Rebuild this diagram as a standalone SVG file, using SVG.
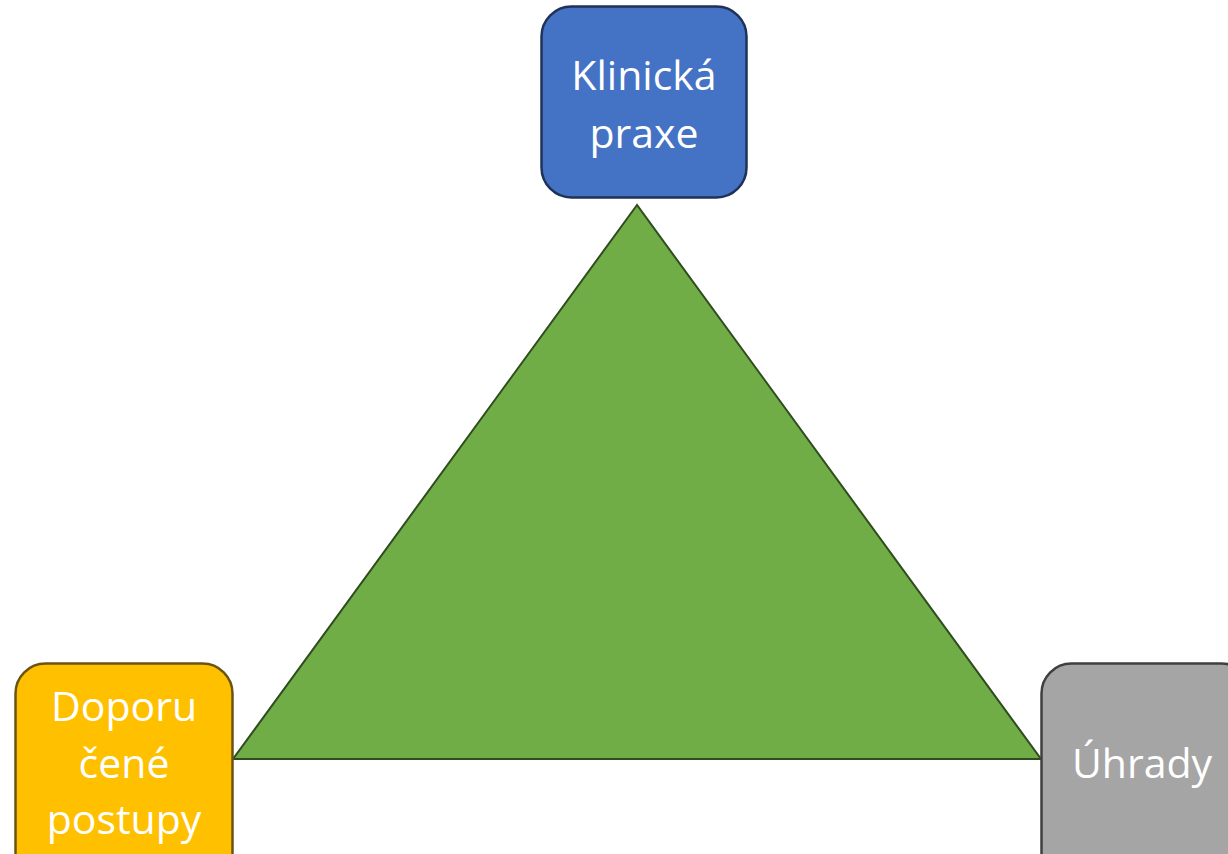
<svg xmlns="http://www.w3.org/2000/svg" width="1228" height="854" viewBox="0 0 1228 854">
  <style>
    .box { stroke-width: 2.5; }
    .lbl { font-family: "Open Sans", "Noto Sans", "DejaVu Sans", sans-serif; font-size: 41px; fill: #ffffff; text-anchor: middle; }
  </style>
  <rect width="1228" height="854" fill="#ffffff"/>
  <g id="connectors">
    <polygon points="637,205 233,759 1041,759" fill="#70ad47" stroke="#2f4d1e" stroke-width="2"/>
  </g>
  <g id="node-klinicka">
    <rect class="box" x="541.5" y="6.5" width="205" height="191" rx="30" fill="#4472c4" stroke="#1f3257"/>
    <text class="lbl" x="644" y="90">Klinická</text>
    <text class="lbl" x="644" y="148">praxe</text>
  </g>
  <g id="node-doporucene">
    <rect class="box" x="15.5" y="663.5" width="217" height="220" rx="30" fill="#ffc000" stroke="#6b5410"/>
    <text class="lbl" x="124" y="721">Doporu</text>
    <text class="lbl" x="124" y="778">čené</text>
    <text class="lbl" x="124" y="834">postupy</text>
  </g>
  <g id="node-uhrady">
    <rect class="box" x="1041.5" y="663.5" width="210" height="220" rx="30" fill="#a5a5a5" stroke="#3f3f3f"/>
    <text class="lbl" x="1142" y="778">Úhrady</text>
  </g>
</svg>
